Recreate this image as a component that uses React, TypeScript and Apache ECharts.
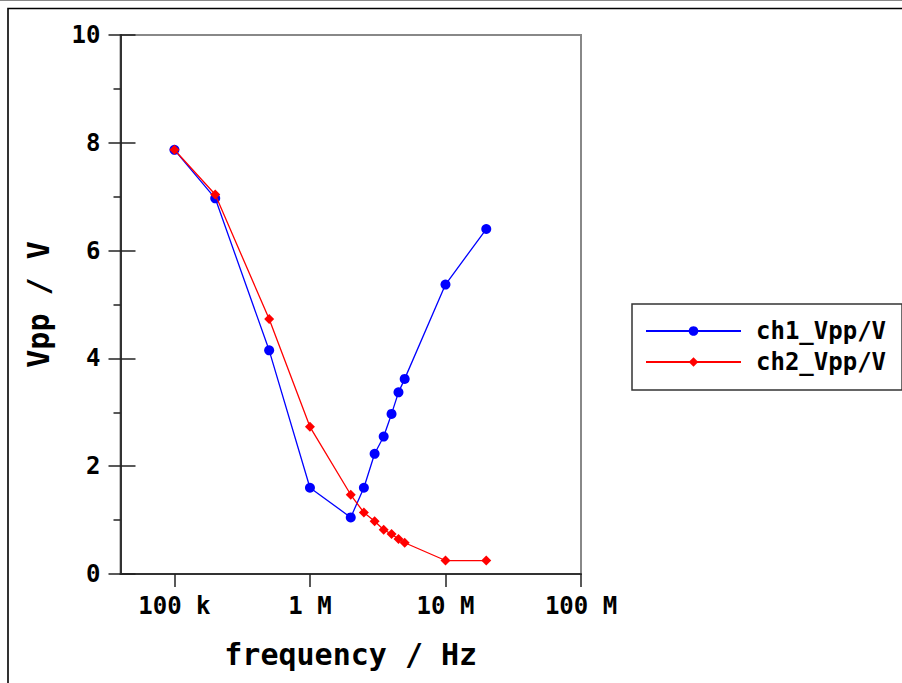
import React, { useEffect, useRef } from "react";
import * as echarts from "echarts";

const freqHz = [1e5, 2e5, 5e5, 1e6, 2e6, 2.5e6, 3e6, 3.5e6, 4e6, 4.5e6, 5e6, 1e7, 2e7];
const ch1Vpp = [7.87, 6.97, 4.15, 1.6, 1.05, 1.6, 2.23, 2.55, 2.97, 3.37, 3.62, 5.37, 6.4];
const ch2Vpp = [7.87, 7.04, 4.73, 2.73, 1.47, 1.14, 0.98, 0.82, 0.74, 0.65, 0.58, 0.25, 0.25];
const xTickLabels: Record<string, string> = {
  "100000": "100 k",
  "1000000": "1 M",
  "10000000": "10 M",
  "100000000": "100 M",
};
const seriesNames = ["ch1_Vpp/V", "ch2_Vpp/V"];

const FONT = "'DejaVu Sans Mono', monospace";

export default function App() {
  const ref = useRef<HTMLDivElement>(null);
  useEffect(() => {
    if (!ref.current) return;
    const chart = echarts.init(ref.current, undefined, { renderer: "svg" });
    const pair = (ys: number[]) => freqHz.map((f, i) => [f, ys[i]]);
    chart.setOption({
      animation: false,
      backgroundColor: "#fff",
      grid: {
        left: 120.5,
        top: 35,
        width: 460.5,
        height: 539,
        show: true,
        borderColor: "#888",
        borderWidth: 2,
        containLabel: false,
      },
      graphic: [
        { type: "line", shape: { x1: 0, y1: 0.5, x2: 902, y2: 0.5 }, style: { stroke: "#888", lineWidth: 1 } },
        { type: "rect", shape: { x: 8, y: 8.5, width: 1000, height: 1000 }, style: { stroke: "#000", fill: "none", lineWidth: 1.6 } },
      ],
      legend: {
        left: 632,
        top: 304,
        orient: "vertical",
        data: seriesNames,
        itemWidth: 95,
        itemHeight: 12,
        itemGap: 7,
        padding: [15, 16, 16, 13],
        borderColor: "#333",
        borderWidth: 1.5,
        textStyle: { fontFamily: FONT, fontWeight: "bold", fontSize: 24, color: "#000", padding: [0, 0, 0, 10] },
      },
      xAxis: {
        type: "log",
        logBase: 10,
        min: 40000,
        max: 1e8,
        name: "frequency / Hz",
        nameLocation: "middle",
        nameGap: 65,
        nameTextStyle: { fontFamily: FONT, fontWeight: "bold", fontSize: 30, color: "#000" },
        axisLine: { show: true, lineStyle: { color: "#333", width: 2 } },
        axisTick: { show: true, inside: false, length: 13, lineStyle: { color: "#222", width: 1.5 } },
        minorTick: { show: false },
        splitLine: { show: false },
        axisLabel: {
          fontFamily: FONT,
          fontWeight: "bold",
          fontSize: 24,
          color: "#000",
          margin: 20,
          showMinLabel: false,
          formatter: (v: number) => xTickLabels[String(Math.round(v))] ?? "",
        },
      },
      yAxis: [
        {
          type: "value",
          position: "left",
          min: 0,
          max: 10,
          interval: 2,
          name: "Vpp / V",
          nameLocation: "middle",
          nameGap: 67,
          nameRotate: 90,
          nameTextStyle: { fontFamily: FONT, fontWeight: "bold", fontSize: 30, color: "#000" },
          axisLine: { show: true, lineStyle: { color: "#333", width: 2 } },
          axisTick: { show: true, inside: false, length: 12, lineStyle: { color: "#222", width: 1.5 } },
          minorTick: { show: true, splitNumber: 2, length: 7, lineStyle: { color: "#222", width: 1.5 } },
          splitLine: { show: false },
          axisLabel: { fontFamily: FONT, fontWeight: "bold", fontSize: 24, color: "#000", margin: 20 },
        },
        {
          type: "value",
          position: "left",
          min: 0,
          max: 10,
          interval: 2,
          axisLine: { show: false },
          axisTick: { show: true, inside: true, length: 15, lineStyle: { color: "#222", width: 1.5 } },
          minorTick: { show: false },
          splitLine: { show: false },
          axisLabel: { show: false },
        },
      ],
      series: [
        {
          name: seriesNames[0],
          type: "line",
          data: pair(ch1Vpp),
          symbol: "circle",
          symbolSize: 10,
          color: "#0000ff",
          lineStyle: { color: "#0000ff", width: 1.3 },
          itemStyle: { color: "#0000ff" },
          z: 3,
        },
        {
          name: seriesNames[1],
          type: "line",
          data: pair(ch2Vpp),
          symbol: "diamond",
          symbolSize: 10,
          color: "#ff0000",
          lineStyle: { color: "#ff0000", width: 1.3 },
          itemStyle: { color: "#ff0000" },
          z: 4,
        },
      ],
    });
    return () => chart.dispose();
  }, []);
  return (
    <div style={{ position: "fixed", left: 0, top: 0, width: 902, height: 683, background: "#fff" }}>
      <div ref={ref} style={{ width: 902, height: 683 }} />
    </div>
  );
}
